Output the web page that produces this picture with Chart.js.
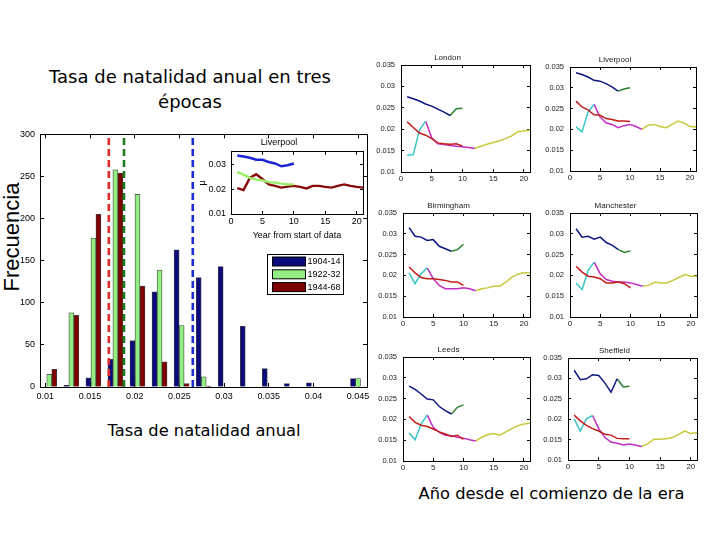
<!DOCTYPE html>
<html>
<head>
<meta charset="utf-8">
<script src="https://cdn.jsdelivr.net/npm/chart.js@4.4.0/dist/chart.umd.min.js"></script>
<style>
  body { margin: 0; background: #fff; }
  #page { position: relative; width: 720px; height: 540px; overflow: hidden; background: #fff; }
  canvas { position: absolute; }
  .lbl { position: absolute; white-space: nowrap; color: #000; font-family: "DejaVu Sans", sans-serif; text-align: center; }
</style>
</head>
<body>
<div id="page">
  <div class="lbl" style="left:0;width:380px;top:64px;font-size:18px;line-height:25px;">Tasa de natalidad anual en tres<br>épocas</div>
  <div class="lbl" style="left:0;width:408px;top:419px;font-size:16.3px;line-height:24px;">Tasa de natalidad anual</div>
  <div class="lbl" style="left:400px;width:303px;top:482px;font-size:16.3px;line-height:24px;">Año desde el comienzo de la era</div>
  <div class="lbl" style="left:12px;top:237px;font-family:'Liberation Sans',Arial,sans-serif;font-size:22px;line-height:24px;transform:translate(-50%,-50%) rotate(-90deg);">Frecuencia</div>
</div>
<script>
// histogram: birth rate bins, counts per period
const histBins = [0.01044, 0.01291, 0.01538, 0.01784, 0.02031, 0.02278, 0.02525, 0.02772,
                  0.03018, 0.03265, 0.03512, 0.03759, 0.04006, 0.04252, 0.04499];
const periods = ['1904-14', '1922-32', '1944-68'];
const freq1904 = [0, 2, 11, 33, 55, 113, 163, 130, 143, 72, 22, 4, 5, 0, 10];
const freq1922 = [15, 88, 177, 258, 229, 139, 73, 12, 0, 0, 0, 0, 0, 0, 10];
const freq1944 = [21, 85, 205, 254, 120, 30, 4, 1, 0, 0, 0, 0, 0, 0, 0];
const periodMeans = [0.0265, 0.0188, 0.0171];
const histXTicks = [0.01, 0.015, 0.02, 0.025, 0.03, 0.035, 0.04, 0.045];
const histYTicks = [0, 50, 100, 150, 200, 250, 300];

// inset: Liverpool
const insetYears = [1, 2, 3, 4, 5, 6, 7, 8, 9, 10, 11, 12, 13, 14, 15, 16, 17, 18, 19, 20, 21];
const inset1904 = [0.0335, 0.0331, 0.0326, 0.0318, 0.0318, 0.0309, 0.0303, 0.0292, 0.0296, 0.0303];
const inset1922 = [0.0268, 0.0258, 0.0245, 0.0238, 0.0235, 0.0228, 0.0226, 0.0222, 0.0219, 0.0219];
const inset1944 = [0.0204, 0.0196, 0.0245, 0.0260, 0.0241, 0.0219, 0.0213, 0.0206, 0.0210, 0.0213, 0.0209,
                   0.0203, 0.0213, 0.0213, 0.0209, 0.0206, 0.0213, 0.0219, 0.0213, 0.0209, 0.0206];
const insetXTicks = [0, 5, 10, 15, 20];
const insetYTicks = [0.01, 0.02, 0.03];

// six cities, each split into coloured segments
const cityNames = ['London', 'Liverpool', 'Birmingham', 'Manchester', 'Leeds', 'Sheffield'];
const yrsBlue = [1, 2, 3, 4, 5, 6, 7, 8];
const yrsGreen = [8, 9, 10];
const yrsRed = [1, 2, 3, 4, 5, 6, 7, 8, 9, 10];
const yrsCyan = [1, 2, 3, 4];
const yrsMagenta = [4, 5, 6, 7, 8, 9, 10, 11, 12];
const yrsYellow = [12, 13, 14, 15, 16, 17, 18, 19, 20, 21];
const cityXTicks = [0, 5, 10, 15, 20];
const cityYTicks = [0.01, 0.015, 0.02, 0.025, 0.03, 0.035];

const londonBlue = [0.0276, 0.0271, 0.0266, 0.0259, 0.0254, 0.0247, 0.0240, 0.0232];
const londonGreen = [0.0232, 0.0248, 0.0249];
const londonRed = [0.0217, 0.0204, 0.0191, 0.0186, 0.0178, 0.0168, 0.0166, 0.0165, 0.0166, 0.0161];
const londonCyan = [0.0139, 0.0141, 0.0198, 0.0219];
const londonMagenta = [0.0219, 0.0180, 0.0166, 0.0164, 0.0162, 0.0160, 0.0159, 0.0157, 0.0155];
const londonYellow = [0.0155, 0.0160, 0.0165, 0.0169, 0.0173, 0.0178, 0.0184, 0.0194, 0.0196, 0.0198];

const liverpoolBlue = [0.0336, 0.0332, 0.0326, 0.0318, 0.0316, 0.0310, 0.0302, 0.0292];
const liverpoolGreen = [0.0292, 0.0297, 0.0300];
const liverpoolRed = [0.0268, 0.0254, 0.0247, 0.0235, 0.0234, 0.0226, 0.0224, 0.0220, 0.0220, 0.0219];
const liverpoolCyan = [0.0206, 0.0194, 0.0242, 0.0260];
const liverpoolMagenta = [0.0260, 0.0230, 0.0216, 0.0212, 0.0204, 0.0209, 0.0212, 0.0207, 0.0200];
const liverpoolYellow = [0.0200, 0.0210, 0.0212, 0.0207, 0.0204, 0.0212, 0.0220, 0.0215, 0.0207, 0.0206];

const birminghamBlue = [0.0315, 0.0294, 0.0292, 0.0284, 0.0286, 0.0270, 0.0264, 0.0258];
const birminghamGreen = [0.0258, 0.0262, 0.0275];
const birminghamRed = [0.0220, 0.0206, 0.0195, 0.0192, 0.0192, 0.0190, 0.0188, 0.0184, 0.0184, 0.0176];
const birminghamCyan = [0.0206, 0.0180, 0.0204, 0.0218];
const birminghamMagenta = [0.0218, 0.0192, 0.0176, 0.0168, 0.0168, 0.0168, 0.0170, 0.0168, 0.0163];
const birminghamYellow = [0.0163, 0.0168, 0.0170, 0.0174, 0.0174, 0.0184, 0.0196, 0.0203, 0.0207, 0.0206];

const manchesterBlue = [0.0312, 0.0292, 0.0294, 0.0287, 0.0292, 0.0279, 0.0272, 0.0262];
const manchesterGreen = [0.0262, 0.0255, 0.0259];
const manchesterRed = [0.0222, 0.0208, 0.0198, 0.0196, 0.0192, 0.0182, 0.0182, 0.0184, 0.0180, 0.0170];
const manchesterCyan = [0.0182, 0.0166, 0.0212, 0.0232];
const manchesterMagenta = [0.0232, 0.0204, 0.0190, 0.0186, 0.0184, 0.0184, 0.0182, 0.0178, 0.0174];
const manchesterYellow = [0.0174, 0.0176, 0.0184, 0.0182, 0.0182, 0.0188, 0.0195, 0.0202, 0.0198, 0.0198];

const leedsBlue = [0.0280, 0.0272, 0.0261, 0.0249, 0.0247, 0.0231, 0.0221, 0.0213];
const leedsGreen = [0.0213, 0.0229, 0.0235];
const leedsRed = [0.0207, 0.0193, 0.0186, 0.0183, 0.0177, 0.0170, 0.0165, 0.0159, 0.0162, 0.0152];
const leedsCyan = [0.0167, 0.0151, 0.0189, 0.0211];
const leedsMagenta = [0.0211, 0.0181, 0.0169, 0.0162, 0.0161, 0.0157, 0.0155, 0.0151, 0.0148];
const leedsYellow = [0.0148, 0.0157, 0.0163, 0.0166, 0.0162, 0.0170, 0.0178, 0.0185, 0.0189, 0.0191];

const sheffieldBlue = [0.0320, 0.0297, 0.0299, 0.0309, 0.0307, 0.0289, 0.0266, 0.0299];
const sheffieldGreen = [0.0299, 0.0279, 0.0281];
const sheffieldRed = [0.0210, 0.0196, 0.0185, 0.0177, 0.0171, 0.0163, 0.0161, 0.0153, 0.0152, 0.0152];
const sheffieldCyan = [0.0201, 0.0171, 0.0201, 0.0209];
const sheffieldMagenta = [0.0209, 0.0177, 0.0155, 0.0144, 0.0141, 0.0137, 0.0139, 0.0136, 0.0133];
const sheffieldYellow = [0.0133, 0.0140, 0.0151, 0.0151, 0.0152, 0.0155, 0.0163, 0.0171, 0.0165, 0.0167];

const segYears = [yrsBlue, yrsGreen, yrsRed, yrsCyan, yrsMagenta, yrsYellow];
const segColors = ['#0c1682', '#2a802a', '#c21e1a', '#3cc6c8', '#c22cc4', '#c8c83a'];
const citySeries = [
  [londonBlue, londonGreen, londonRed, londonCyan, londonMagenta, londonYellow],
  [liverpoolBlue, liverpoolGreen, liverpoolRed, liverpoolCyan, liverpoolMagenta, liverpoolYellow],
  [birminghamBlue, birminghamGreen, birminghamRed, birminghamCyan, birminghamMagenta, birminghamYellow],
  [manchesterBlue, manchesterGreen, manchesterRed, manchesterCyan, manchesterMagenta, manchesterYellow],
  [leedsBlue, leedsGreen, leedsRed, leedsCyan, leedsMagenta, leedsYellow],
  [sheffieldBlue, sheffieldGreen, sheffieldRed, sheffieldCyan, sheffieldMagenta, sheffieldYellow]
];
// plot area of each small panel: left, top, width, height
const cityRects = [
  [401, 65, 129, 107], [570, 67, 126, 104],
  [403, 213, 127, 104], [570, 213, 127, 104],
  [403, 357, 127, 104], [568, 358, 129, 102]
];

const barColors = ['#0a0a7c', '#92ee82', '#7e0000'];
const meanColors = ['#1c2cd8', '#1e7a1e', '#e22a2a'];
const insetColors = ['#1c24d6', '#98ee68', '#8a0a0a'];

Chart.defaults.font.family = '"Liberation Sans", Arial, sans-serif';
Chart.defaults.color = '#000';
Chart.defaults.animation = false;

const page = document.getElementById('page');

function makeCanvas(left, top, w, h) {
  const c = document.createElement('canvas');
  c.width = w;
  c.height = h;
  c.style.left = left + 'px';
  c.style.top = top + 'px';
  c.style.width = w + 'px';
  c.style.height = h + 'px';
  page.appendChild(c);
  return c.getContext('2d');
}

const fixedTicks = vals => scale => { scale.ticks = vals.map(v => ({ value: v })); };

// matlab style box: real axes on bottom/left, bare axes on top/right, ticks pointing inward
function boxScales(o) {
  const grid = { display: true, drawOnChartArea: false, drawTicks: true, tickLength: -o.len, color: '#000', lineWidth: 1 };
  const border = { display: true, color: '#000', width: 1 };
  const x = {
    type: 'linear', min: o.xMin, max: o.xMax, offset: false,
    afterBuildTicks: fixedTicks(o.xTicks), afterFit: s => { s.height = o.xH; },
    grid: Object.assign({ offset: false }, grid), border,
    ticks: Object.assign({ maxRotation: 0, autoSkip: false, padding: o.xPad + o.len }, o.xTickOpts),
    title: o.xTitle || { display: false }
  };
  const y = {
    type: 'linear', min: o.yMin, max: o.yMax,
    afterBuildTicks: fixedTicks(o.yTicks), afterFit: s => { s.width = o.yW; },
    grid, border,
    ticks: Object.assign({ padding: o.yPad + o.len }, o.yTickOpts),
    title: o.yTitle || { display: false }
  };
  const xTop = {
    type: 'linear', position: 'top', min: o.xMin, max: o.xMax, offset: false,
    afterBuildTicks: fixedTicks(o.xTicks), afterFit: s => { s.height = 0; },
    grid: Object.assign({ offset: false }, grid), border, ticks: { display: false }
  };
  const yRight = {
    type: 'linear', position: 'right', min: o.yMin, max: o.yMax,
    afterBuildTicks: fixedTicks(o.yTicks), afterFit: s => { s.width = 0; },
    grid, border, ticks: { display: false }
  };
  return { x, y, xTop, yRight };
}

// legend box for the three periods inside the histogram
const periodLegend = {
  id: 'periodLegend',
  afterDraw(chart) {
    const { ctx, chartArea: a } = chart;
    const x0 = Math.round(a.right - 100) + 0.5, y0 = Math.round(a.top + 120) + 0.5;
    ctx.save();
    ctx.fillStyle = '#fff';
    ctx.fillRect(x0, y0, 76, 40);
    ctx.strokeStyle = '#000';
    ctx.lineWidth = 1;
    ctx.strokeRect(x0, y0, 76, 40);
    ctx.font = '9px "Liberation Sans", Arial, sans-serif';
    ctx.textBaseline = 'middle';
    chart.data.datasets.slice(0, 3).forEach((ds, i) => {
      const yy = y0 + 7 + i * 12.8;
      ctx.fillStyle = ds.backgroundColor;
      ctx.fillRect(x0 + 5, yy - 4.5, 33, 9);
      ctx.strokeRect(x0 + 5, yy - 4.5, 33, 9);
      ctx.fillStyle = '#000';
      ctx.fillText(ds.label, x0 + 40, yy);
    });
    ctx.restore();
  }
};

// main histogram
const barSets = [freq1904, freq1922, freq1944].map((f, i) => ({
  type: 'bar',
  label: periods[i],
  data: histBins.map((b, j) => ({ x: b, y: f[j] })),
  backgroundColor: barColors[i],
  borderColor: 'rgba(0,0,0,0.75)',
  borderWidth: 0.8,
  barThickness: 5,
  order: 1
}));
const meanSets = periodMeans.map((m, i) => ({
  type: 'line',
  label: 'media ' + periods[i],
  data: [{ x: m, y: 0 }, { x: m, y: 300 }],
  borderColor: meanColors[i],
  borderWidth: 2.6,
  borderDash: [7, 4],
  pointRadius: 0,
  order: 0
}));

new Chart(makeCanvas(0, 120, 382, 290), {
  type: 'bar',
  data: { datasets: barSets.concat(meanSets) },
  options: {
    responsive: false,
    devicePixelRatio: 1,
    layout: { padding: { top: 10, right: 15, left: 0, bottom: 0 } },
    plugins: { legend: { display: false }, tooltip: { enabled: false } },
    scales: boxScales({
      len: 4, xMin: 0.0094, xMax: 0.046, yMin: 0, yMax: 300,
      xTicks: histXTicks, yTicks: histYTicks, xH: 23, yW: 40, xPad: 4, yPad: 5,
      xTickOpts: { font: { size: 9 }, callback: v => String(v) },
      yTickOpts: { font: { size: 9 } }
    })
  },
  plugins: [periodLegend]
});

// Liverpool inset
new Chart(makeCanvas(195, 133, 180, 112), {
  type: 'line',
  data: {
    datasets: [inset1904, inset1922, inset1944].map((vals, i) => ({
      label: periods[i],
      data: vals.map((v, j) => ({ x: insetYears[j], y: v })),
      borderColor: insetColors[i],
      borderWidth: 2.4,
      pointRadius: 0,
      tension: 0
    }))
  },
  options: {
    responsive: false,
    devicePixelRatio: 1,
    layout: { padding: { top: 0, right: 12, left: 0, bottom: 0 } },
    plugins: {
      legend: { display: false }, tooltip: { enabled: false },
      title: { display: true, text: 'Liverpool', font: { size: 9, weight: 'normal' }, padding: { top: 4, bottom: 4 }, color: '#000' }
    },
    scales: boxScales({
      len: 3, xMin: 0, xMax: 21, yMin: 0.01, yMax: 0.035,
      xTicks: insetXTicks, yTicks: insetYTicks, xH: 31, yW: 36, xPad: 2, yPad: 5,
      xTickOpts: { font: { size: 9 } },
      yTickOpts: { font: { size: 9 }, callback: v => String(v) },
      xTitle: { display: true, text: 'Year from start of data', font: { size: 9 }, padding: { top: 1, bottom: 4 } },
      yTitle: { display: true, text: 'μ', font: { size: 9 }, padding: { top: 2, bottom: 2 } }
    })
  }
});

// six city panels
cityNames.forEach((name, i) => {
  const [l, t, w, h] = cityRects[i];
  new Chart(makeCanvas(l - 36, t - 14, 36 + w + 6, 14 + h + 16), {
    type: 'line',
    data: {
      datasets: citySeries[i].map((vals, k) => ({
        label: name + ' ' + k,
        data: segYears[k].map((x, j) => ({ x: x, y: vals[j] })),
        borderColor: segColors[k],
        borderWidth: 1.5,
        pointRadius: 0,
        tension: 0
      }))
    },
    options: {
      responsive: false,
      devicePixelRatio: 1,
      layout: { padding: { top: 0, right: 6, left: 0, bottom: 0 } },
      plugins: {
        legend: { display: false }, tooltip: { enabled: false },
        title: { display: true, text: name, font: { size: 8, weight: 'normal' }, padding: { top: 2, bottom: 2.4 }, color: '#222' }
      },
      scales: boxScales({
        len: 3, xMin: 0, xMax: 21, yMin: 0.01, yMax: 0.035,
        xTicks: cityXTicks, yTicks: cityYTicks, xH: 16, yW: 36, xPad: 2, yPad: 6,
        xTickOpts: { font: { size: 8 }, color: '#222' },
        yTickOpts: { font: { size: 7.5 }, color: '#222', callback: v => String(v) }
      })
    }
  });
});
</script>
</body>
</html>
